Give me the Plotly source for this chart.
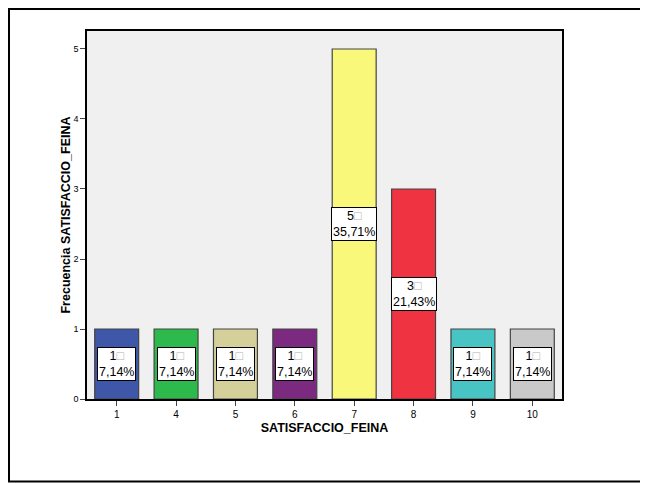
import plotly.graph_objects as go

# categories and counts
categories = ['1', '4', '5', '6', '7', '8', '9', '10']
counts = [1, 1, 1, 1, 5, 3, 1, 1]
percents = ['7,14%', '7,14%', '7,14%', '7,14%', '35,71%', '21,43%', '7,14%', '7,14%']
bar_colors = ['#3E57A8', '#2DB94B', '#D5D09A', '#7C2A80', '#FAF87A', '#EF3340', '#48C4C4', '#C9C9C9']

# page has an 8px body margin, so the figure is a bit smaller than the window
W, H = 640, 475
L, R, T, B = 79, 86, 23, 84
pw, ph = W - L - R, H - T - B

fig = go.Figure()
fig.add_trace(go.Bar(
    x=categories, y=counts,
    marker=dict(color=bar_colors, line=dict(color='#444444', width=1.2)),
    width=0.74, showlegend=False,
))

# labels in the middle of each bar (x by category index)
for i, (v, p) in enumerate(zip(counts, percents)):
    fig.add_annotation(
        x=i, y=v / 2, xref='x', yref='y',
        text=f"{v}<span style='color:#b0b0b0'>\u25a1</span><br>{p}",
        showarrow=False, align='center',
        font=dict(family='Arial', size=12.5, color='black'),
        bgcolor='white', bordercolor='black', borderwidth=1, borderpad=1,
    )

# outer frame
fig.add_shape(type='rect', xref='paper', yref='paper',
              x0=(1 - L) / pw, x1=(639 - L) / pw,
              y0=1 - (473.5 - T) / ph, y1=1 - (1 - T) / ph,
              line=dict(color='black', width=2), layer='above')

fig.update_layout(
    width=W, height=H,
    margin=dict(l=L, r=R, t=T, b=B),
    paper_bgcolor='white', plot_bgcolor='#F0F0F0',
    font=dict(family='Arial', color='black'),
    xaxis=dict(
        type='category', showline=True, linecolor='black', linewidth=1.5, mirror=True,
        ticks='outside', ticklen=5, tickcolor='#444444', tickfont=dict(size=10),
        showgrid=False,
        title=dict(text='<b>SATISFACCIO_FEINA</b>', font=dict(size=12.5), standoff=4),
    ),
    yaxis=dict(
        range=[0, 5.257], showline=True, linecolor='black', linewidth=1.5, mirror=True,
        ticks='outside', ticklen=5, tickcolor='#444444', tickfont=dict(size=9),
        dtick=1, showgrid=False, zeroline=False,
        title=dict(text='<b>Frecuencia SATISFACCIO_FEINA</b>', font=dict(size=12.5), standoff=0),
    ),
)

fig.write_html("out.html")
